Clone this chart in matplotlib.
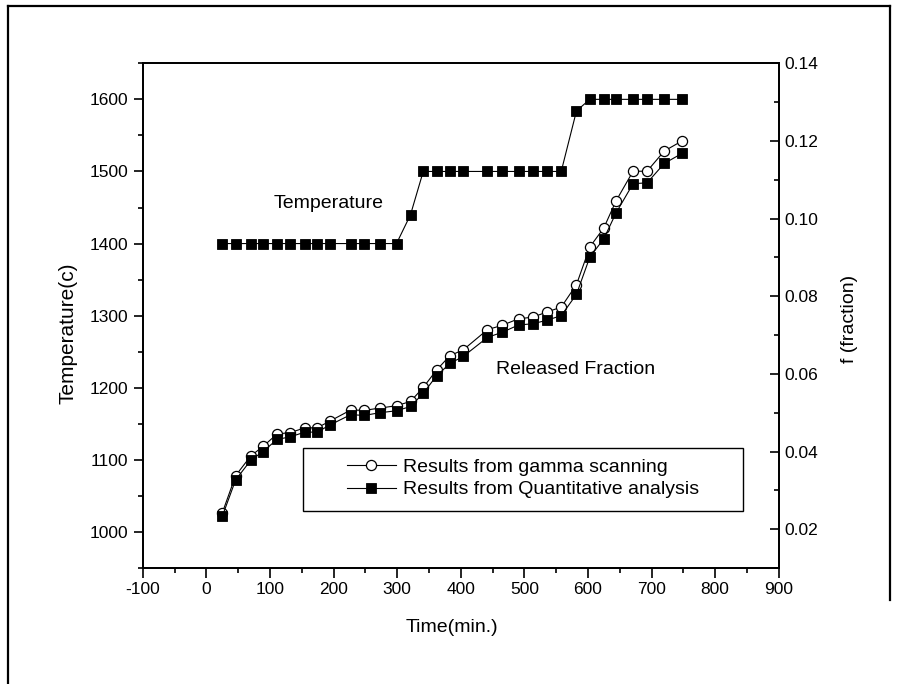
import matplotlib
matplotlib.use("Agg")
import matplotlib.pyplot as plt
from matplotlib.ticker import MultipleLocator, FormatStrFormatter
from matplotlib.patches import Rectangle
from matplotlib.lines import Line2D

plt.rcParams['font.family'] = ['Liberation Sans', 'DejaVu Sans']
plt.rcParams['axes.unicode_minus'] = False

# Sampling times (min.)
time_min = [25, 46, 70, 89, 111, 132, 155, 174, 195, 227, 248, 273, 299, 321, 341, 362,
            383, 404, 442, 465, 491, 513, 535, 558, 582, 603, 625, 644, 671, 693, 720, 748]

# Furnace temperature (c)
temperature = [1400] * 13 + [1440] + [1500] * 10 + [1584] + [1600] * 7

# Released fraction from gamma scanning
frac_gamma = [0.0242, 0.0338, 0.0389, 0.0413, 0.0445, 0.0449, 0.0461, 0.0461, 0.0479, 0.0507,
              0.0506, 0.0512, 0.0518, 0.0529, 0.0565, 0.0610, 0.0647, 0.0662, 0.0714, 0.0725,
              0.0742, 0.0746, 0.0759, 0.0772, 0.0830, 0.0927, 0.0976, 0.1045, 0.1122, 0.1122,
              0.1174, 0.1200]

# Released fraction from quantitative analysis
frac_quant = [0.0233, 0.0327, 0.0378, 0.0400, 0.0431, 0.0438, 0.0450, 0.0450, 0.0469, 0.0495,
              0.0493, 0.0500, 0.0505, 0.0516, 0.0550, 0.0595, 0.0627, 0.0645, 0.0694, 0.0707,
              0.0726, 0.0729, 0.0738, 0.0750, 0.0805, 0.0901, 0.0948, 0.1014, 0.1090, 0.1092,
              0.1142, 0.1168]

W, H = 901, 684
fig = plt.figure(figsize=(W / 100, H / 100), dpi=100)
ax = fig.add_axes([142.8 / W, 1 - 568 / H, (778.7 - 142.8) / W, (568 - 63.3) / H])
ax2 = ax.twinx()

spine_lw = 1.3
for a in (ax, ax2):
    for s in a.spines.values():
        s.set_linewidth(spine_lw)

# Temperature curve on the left axis
ax.plot(time_min, temperature, color='black', lw=0.8, marker='s', ms=6.5,
        mfc='black', mec='black', mew=0.6)

# Released fraction curves on the right axis
l1, = ax2.plot(time_min, frac_gamma, color='black', lw=0.8, marker='o', ms=7.3,
               mfc='white', mec='black', mew=0.9, zorder=3)
l2, = ax2.plot(time_min, frac_quant, color='black', lw=0.8, marker='s', ms=6.7,
               mfc='black', mec='black', mew=0.6, zorder=4)

ax.set_xlim(-100, 900)
ax.set_ylim(950, 1650)
ax2.set_ylim(0.01, 0.14)

ax.xaxis.set_major_locator(MultipleLocator(100))
ax.xaxis.set_minor_locator(MultipleLocator(50))
ax.yaxis.set_major_locator(MultipleLocator(100))
ax.yaxis.set_minor_locator(MultipleLocator(50))
ax2.yaxis.set_major_locator(MultipleLocator(0.02))
ax2.yaxis.set_minor_locator(MultipleLocator(0.01))
ax2.yaxis.set_major_formatter(FormatStrFormatter('%.2f'))

ax.tick_params(axis='x', which='major', direction='out', length=7, width=1.2,
               labelsize=12.5, pad=3, top=False)
ax.tick_params(axis='x', which='minor', direction='out', length=3.6, width=1.2, top=False)
ax.tick_params(axis='y', which='major', direction='out', length=6.5, width=1.2,
               labelsize=12.5, pad=4, right=False)
ax.tick_params(axis='y', which='minor', direction='out', length=3.6, width=1.2, right=False)
ax2.tick_params(axis='y', which='major', direction='in', length=6.5, width=1.2,
                labelsize=12.5, pad=4)
ax2.tick_params(axis='y', which='minor', direction='in', length=3.4, width=1.2)

# Axis titles
fig.text(452 / W, 1 - 627 / H, 'Time(min.)', fontsize=14, ha='center', va='center')
fig.text(67.5 / W, 1 - 333 / H, 'Temperature(c)', fontsize=15, rotation=90,
         ha='center', va='center')
fig.text(849 / W, 1 - 319 / H, 'f (fraction)', fontsize=14, rotation=90,
         ha='center', va='center')

# Curve annotations
ax.text(193, 1456, 'Temperature', fontsize=14, ha='center', va='center')
ax.text(581, 1225, 'Released Fraction', fontsize=14, ha='center', va='center')

# Legend with a wide frame
fig.add_artist(Rectangle((303.3 / W, 1 - 510.7 / H), 440 / W, 63 / H,
                         transform=fig.transFigure, fill=False, lw=1.0, ec='black'))
ax2.legend([l1, l2], ['Results from gamma scanning', 'Results from Quantitative analysis'],
           loc='center left', bbox_to_anchor=(346.7 / W, 1 - 478.3 / H),
           bbox_transform=fig.transFigure, frameon=False, borderpad=0, borderaxespad=0,
           handlelength=2.55, handletextpad=0.34, labelspacing=0.25, fontsize=14, numpoints=1)

# Page frame
fx, fy, rx = 8 / W, 1 - 6 / H, 889.7 / W
fig.add_artist(Line2D([fx, fx], [0, fy], transform=fig.transFigure, color='black', lw=1.6))
fig.add_artist(Line2D([fx, rx], [fy, fy], transform=fig.transFigure, color='black', lw=1.6))
fig.add_artist(Line2D([rx, rx], [fy, 1 - 600 / H], transform=fig.transFigure, color='black', lw=1.6))

fig.savefig('out.png', dpi=100)
